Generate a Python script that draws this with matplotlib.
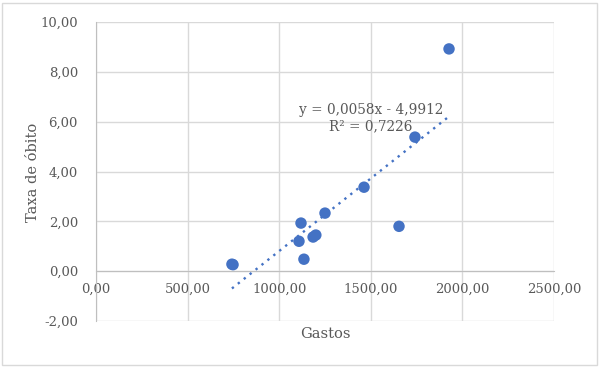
import numpy as np
import matplotlib
matplotlib.use("Agg")
import matplotlib.pyplot as plt
from matplotlib.patches import Rectangle

gastos = [742, 748, 1108, 1119, 1135, 1185, 1200, 1250, 1463, 1654, 1741, 1927]
taxa = [0.28, 0.26, 1.20, 1.93, 0.48, 1.37, 1.45, 2.33, 3.37, 1.80, 5.38, 8.92]
eq_text = "y = 0,0058x - 4,9912"
r2_text = "R² = 0,7226"
x_ticks = [0, 500, 1000, 1500, 2000, 2500]
y_ticks = [-2, 0, 2, 4, 6, 8, 10]

def fmt(v):
    return f"{v:.2f}".replace(".", ",")

plt.rcParams['font.family'] = ['DejaVu Serif']
txt = '#595959'
grid = '#d9d9d9'
blue = '#4472C4'

fig = plt.figure(figsize=(6.0, 3.67), dpi=100)
ax = fig.add_axes([96/600, 1-321/367, (554-96)/600, (321-22)/367])

ax.set_xlim(0, 2500)
ax.set_ylim(-2, 10)
ax.set_xticks(x_ticks)
ax.set_yticks(y_ticks)
ax.set_xticklabels([fmt(v) for v in x_ticks])
ax.set_yticklabels([fmt(v) for v in y_ticks])
ax.grid(True, color=grid, lw=1)
ax.set_axisbelow(True)
for s in ['top', 'right']:
    ax.spines[s].set_visible(False)
ax.spines['bottom'].set_position(('data', 0))
ax.spines['bottom'].set_color('#bfbfbf')
ax.spines['left'].set_color('#bfbfbf')
ax.tick_params(length=0, colors=txt, labelsize=9.5)
ax.tick_params(axis='x', pad=8)
ax.tick_params(axis='y', pad=13)

# trendline
coef = np.polyfit(gastos, taxa, 1)
xs = np.array([min(gastos), max(gastos)])
ax.plot(xs, np.polyval(coef, xs), linestyle=(0, (1, 2.2)), color=blue, lw=1.7, zorder=3)

ax.scatter(gastos, taxa, s=68, color=blue, zorder=4, edgecolors='none')

ax.text(1500, 6.47, eq_text, ha='center', va='center', color=txt, fontsize=9.8)
ax.text(1500, 5.80, r2_text, ha='center', va='center', color=txt, fontsize=9.8)

fig.text(325/600, 1-334/367, "Gastos", ha='center', va='center', color=txt, fontsize=10.5)
fig.text(33/600, 1-172/367, "Taxa de óbito", ha='center', va='center', rotation=90, color=txt, fontsize=10.5)

fig.patches.append(Rectangle((2/600, 2/367), 595/600, 362/367, transform=fig.transFigure,
                             fill=False, edgecolor='#d9d9d9', lw=1))

fig.savefig("out.png", dpi=100)
